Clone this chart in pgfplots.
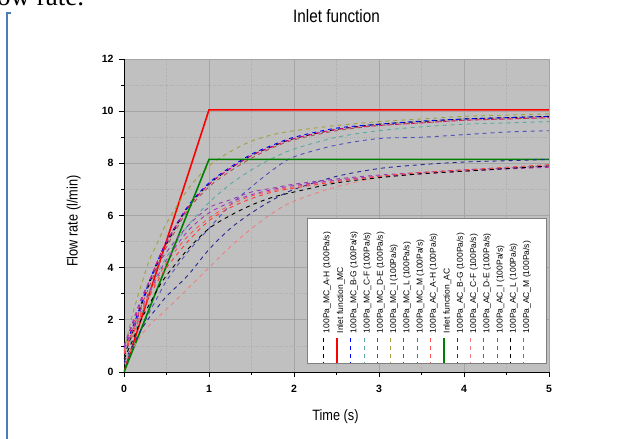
\documentclass[border=0pt]{standalone}
\usepackage{fontspec}
\setmainfont{Liberation Sans}
\newfontfamily\narrowfont{Liberation Sans}[FakeStretch=0.85]
\newfontfamily\seriffont{Liberation Serif}
\usepackage{graphicx}
\usepackage{pgfplots}
\pgfplotsset{compat=1.18}
\usepackage{pgfplotstable}

\definecolor{plotbg}{RGB}{192,192,192}
\definecolor{gridmajor}{RGB}{165,165,165}
\definecolor{gridminor}{RGB}{172,172,172}
\definecolor{legendborder}{RGB}{128,128,128}
\definecolor{frameblue}{RGB}{74,126,187}
\definecolor{cteal}{RGB}{90,170,160}
\definecolor{colive}{RGB}{160,160,60}
\definecolor{cslate}{RGB}{80,80,190}
\definecolor{crosy}{RGB}{170,80,80}
\definecolor{clightred}{RGB}{255,80,80}
\definecolor{cgreen}{RGB}{0,128,0}
\definecolor{cnavy}{RGB}{40,40,150}
\definecolor{csalmon}{RGB}{240,128,128}
\definecolor{cpurple}{RGB}{170,50,190}
\definecolor{cpurpleb}{RGB}{150,60,180}
\definecolor{cred}{RGB}{255,60,60}

% MC curves (inlet to 10 l/min)
\pgfplotstableread{
t MCAH MCBG MCCF MCDE MCI MCL MCM
0 0.6 0.9 0.5 1.0 0.8 0.3 0.7
0.1 1.5 1.7 1.3 1.8 2.2 0.9 1.6
0.2 2.5 2.6 2.2 2.7 3.3 1.6 2.5
0.3 3.4 3.5 3.0 3.5 4.3 2.3 3.3
0.4 4.2 4.3 3.8 4.3 5.0 2.9 4.1
0.5 4.9 5.0 4.4 5.0 5.7 3.5 4.8
0.75 6.3 6.35 5.6 6.3 7.0 4.6 6.2
1 7.2 7.25 6.5 7.2 7.9 5.5 7.1
1.25 7.8 7.85 7.2 7.8 8.45 6.4 7.7
1.5 8.3 8.35 7.75 8.3 8.85 7.1 8.2
1.75 8.65 8.7 8.2 8.65 9.1 7.75 8.6
2 8.95 9.0 8.55 8.95 9.25 8.25 8.9
2.5 9.3 9.35 9.0 9.3 9.45 8.7 9.25
3 9.5 9.5 9.25 9.45 9.6 8.95 9.45
3.5 9.6 9.62 9.4 9.55 9.7 9.0 9.55
4 9.7 9.7 9.5 9.65 9.8 9.1 9.65
4.5 9.75 9.75 9.55 9.7 9.85 9.2 9.7
5 9.8 9.8 9.6 9.75 9.9 9.25 9.75
}\mcdata

% AC curves (inlet to 8.15 l/min)
\pgfplotstableread{
t ACAH ACBG ACCF ACDE ACI ACL ACM
0 0.8 0.4 0.5 0.9 1.0 0.5 0.7
0.1 1.5 1.0 0.9 1.6 1.9 1.2 1.4
0.2 2.3 1.6 1.4 2.4 2.8 2.0 2.2
0.3 3.0 2.1 1.8 3.1 3.5 2.6 2.9
0.4 3.6 2.5 2.1 3.7 4.1 3.2 3.5
0.5 4.2 2.9 2.4 4.3 4.6 3.7 4.0
0.75 5.2 3.7 3.2 5.4 5.6 4.7 5.0
1 5.9 4.7 4.0 6.1 6.3 5.5 5.8
1.25 6.4 5.5 4.8 6.5 6.6 6.0 6.3
1.5 6.75 6.1 5.5 6.8 6.9 6.4 6.65
1.75 6.95 6.6 6.1 7.0 7.05 6.7 6.9
2 7.1 7.0 6.55 7.15 7.2 6.9 7.05
2.5 7.35 7.5 7.1 7.35 7.4 7.25 7.3
3 7.5 7.8 7.45 7.5 7.55 7.45 7.5
3.5 7.6 7.95 7.6 7.6 7.65 7.6 7.65
4 7.7 8.05 7.7 7.7 7.75 7.7 7.75
4.5 7.8 8.1 7.8 7.78 7.82 7.8 7.85
5 7.85 8.15 7.85 7.85 7.9 7.9 7.95
}\acdata

% rotated legend text, all of the same length so the entries start together
\newcommand{\lent}[1]{\addlegendentry{\rotatebox{90}{\makebox[115pt][l]{\vphantom{(}#1}}}}

\begin{document}
\begin{tikzpicture}
\useasboundingbox (0pt,0pt) rectangle (630pt,439pt);
\fill[white] (0pt,0pt) rectangle (630pt,439pt);
\node[anchor=base west, inner sep=0pt, font=\seriffont\fontsize{27}{30}\selectfont] at (-3pt,433pt) {ow rate.};
\draw[frameblue, line width=1.5pt] (11pt,426pt) -- (7pt,426pt) -- (7pt,-2pt);

\begin{axis}[
    at={(124pt,67pt)}, anchor=south west,
    width=425pt, height=313pt, scale only axis,
    xmin=0, xmax=5, ymin=0, ymax=12,
    xtick={0,1,2,3,4,5}, ytick={0,2,4,6,8,10,12},
    minor x tick num=1, minor y tick num=1,
    axis lines*=left,
    axis line style={black, line width=0.9pt},
    tick align=outside,
    major tick length=5pt, minor tick length=3pt,
    tick style={black, line width=0.8pt},
    grid=both,
    major grid style={gridmajor, line width=0.7pt},
    minor grid style={gridminor, dotted, line width=0.6pt},
    axis background/.style={fill=plotbg},
    ticklabel style={font=\bfseries\fontsize{10.5}{12}\selectfont},
    xticklabel style={yshift=-5pt},
    yticklabel style={xshift=-2pt},
    /pgf/number format/assume math mode=true,
    title={Inlet function},
    title style={font=\narrowfont\fontsize{18}{20}\selectfont, at={(axis description cs:0.5,1.118)}, anchor=center},
    xlabel={Time (s)},
    xlabel style={font=\narrowfont\fontsize{15}{18}\selectfont, at={(axis description cs:0.4976,-0.141)}, anchor=center},
    ylabel={Flow rate (l/min)},
    ylabel style={font=\narrowfont\fontsize{15}{18}\selectfont, at={(axis description cs:-0.118,0.482)}, anchor=center},
    legend columns=16,
    legend style={at={(axis description cs:0.713,0.259)}, anchor=center,
        draw=legendborder, fill=white, line width=0.6pt,
        font=\fontsize{8.5}{9}\selectfont,
        inner xsep=16pt, inner ysep=0pt, column sep=0pt,
        nodes={inner sep=0pt}, cells={anchor=south},
        /tikz/every odd column/.append style={column sep=-1pt},
        /tikz/every even column/.append style={column sep=5.4pt}},
    legend image code/.code={\draw[#1] (0pt,-3pt) -- (0pt,-28pt);},
    dsh/.style={dash pattern=on 4pt off 4pt, line width=0.9pt, smooth},
]
\addplot[dsh, black] table[x=t, y=MCAH] {\mcdata};
\lent{100Pa\_MC\_A-H (100Pa/s)}
\addplot[red, line width=1.6pt] coordinates {(0,0) (1,10.05) (5,10.05)};
\lent{Inlet function\_MC}
\addplot[dsh, blue] table[x=t, y=MCBG] {\mcdata};
\lent{100Pa\_MC\_B-G (100Pa/s)}
\addplot[dsh, cteal] table[x=t, y=MCCF] {\mcdata};
\lent{100Pa\_MC\_C-F (100Pa/s)}
\addplot[dsh, magenta] table[x=t, y=MCDE] {\mcdata};
\lent{100Pa\_MC\_D-E (100Pa/s)}
\addplot[dsh, colive] table[x=t, y=MCI] {\mcdata};
\lent{100Pa\_MC\_I (100Pa/s)}
\addplot[dsh, cslate] table[x=t, y=MCL] {\mcdata};
\lent{100Pa\_MC\_L (100Pa/s)}
\addplot[dsh, crosy] table[x=t, y=MCM] {\mcdata};
\lent{100Pa\_MC\_M (100Pa/s)}
\addplot[dsh, clightred] table[x=t, y=ACAH] {\acdata};
\lent{100Pa\_AC\_A-H (100Pa/s)}
\addplot[cgreen, line width=1.6pt] coordinates {(0,0) (1,8.15) (5,8.15)};
\lent{Inlet function\_AC}
\addplot[dsh, cnavy] table[x=t, y=ACBG] {\acdata};
\lent{100Pa\_AC\_B-G (100Pa/s)}
\addplot[dsh, csalmon] table[x=t, y=ACCF] {\acdata};
\lent{100Pa\_AC\_C-F (100Pa/s)}
\addplot[dsh, cpurple] table[x=t, y=ACDE] {\acdata};
\lent{100Pa\_AC\_D-E (100Pa/s)}
\addplot[dsh, cpurpleb] table[x=t, y=ACI] {\acdata};
\lent{100Pa\_AC\_I (100Pa/s)}
\addplot[dsh, black] table[x=t, y=ACL] {\acdata};
\lent{100Pa\_AC\_L (100Pa/s)}
\addplot[dsh, cred] table[x=t, y=ACM] {\acdata};
\lent{100Pa\_AC\_M (100Pa/s)}
\end{axis}
\end{tikzpicture}
\end{document}
